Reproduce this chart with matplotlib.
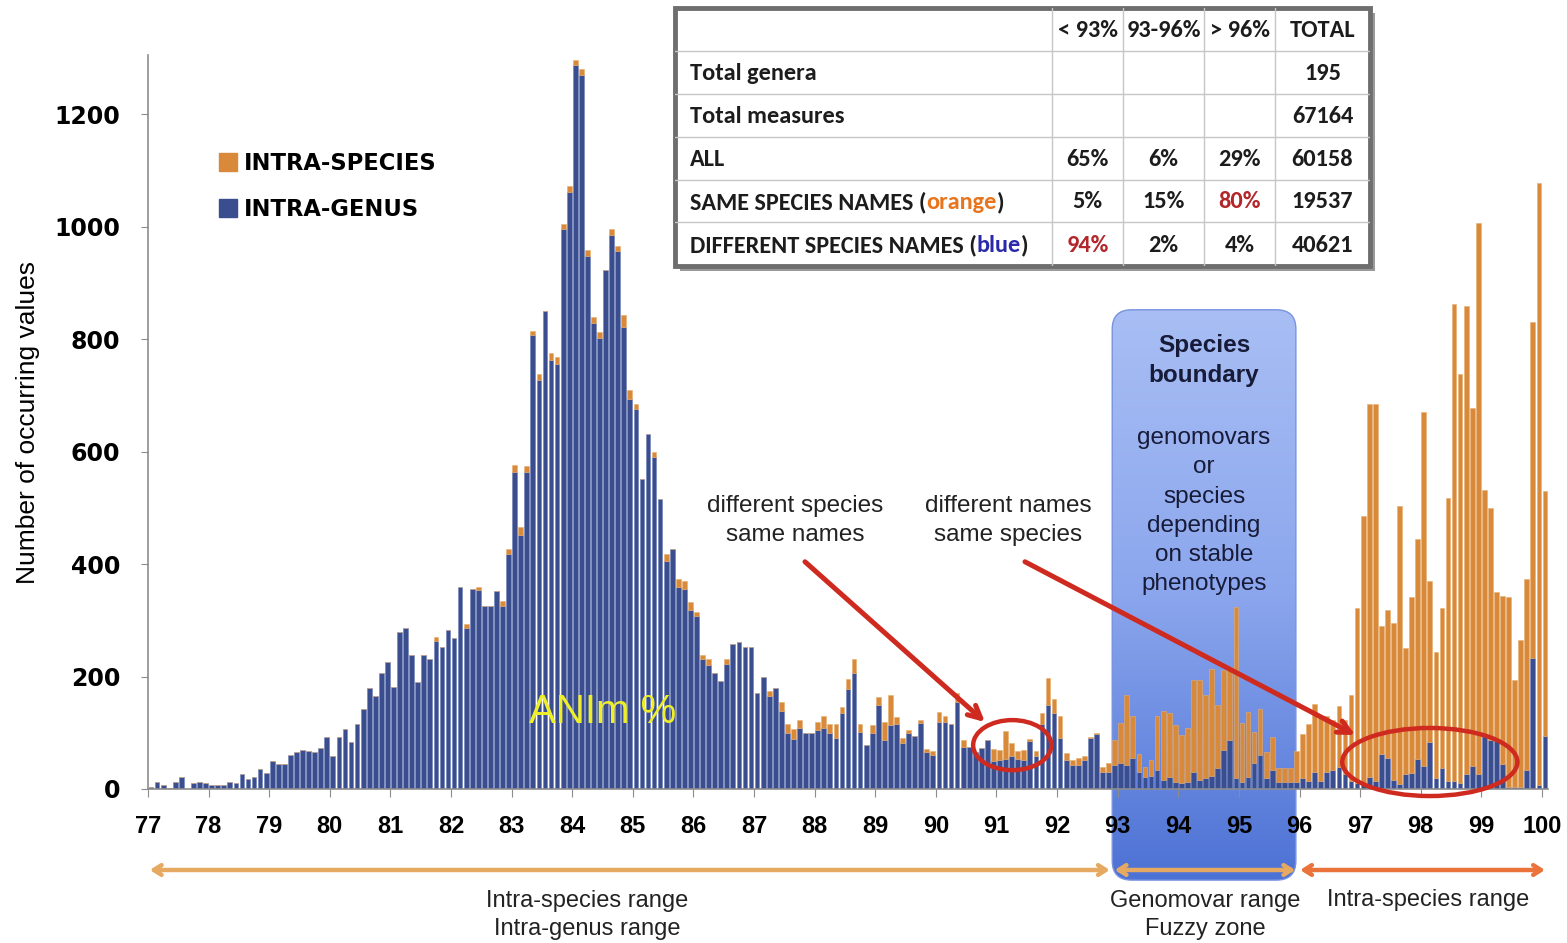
import numpy as np
import matplotlib
matplotlib.use('Agg')
from matplotlib import pyplot as plt
from matplotlib import font_manager as fm
import matplotlib.colors as mcolors
from matplotlib.patches import FancyBboxPatch, Ellipse, Rectangle, Patch
from matplotlib.offsetbox import TextArea, HPacker, AnnotationBbox


def pick_font(*names):
    for name in names:
        try:
            fm.findfont(fm.FontProperties(family=name), fallback_to_default=False)
            return name
        except ValueError:
            pass
    return 'DejaVu Sans'


NARROW = pick_font('Liberation Sans Narrow', 'Liberation Sans')
ARIAL = pick_font('Liberation Sans', 'Arimo')
CALIBRI = pick_font('Carlito', 'Lato', 'Open Sans')
IS_NARROW = NARROW == 'Liberation Sans Narrow'

# ANIm bins, 0.1 % wide, labelled by their lower edge (77.0 ... 100.0)
ani_bins = np.round(np.arange(770, 1001) / 10, 1)

# counts of pairs with different species names (blue), one line per unit of ANIm
genus = [
    3, 13, 8, 1, 13, 22, 0, 10, 12, 10,            # 77
    7, 7, 7, 13, 10, 27, 17, 22, 35, 28,           # 78
    49, 44, 44, 61, 66, 70, 68, 66, 73, 93,        # 79
    58, 92, 106, 84, 115, 143, 179, 165, 206, 225,  # 80
    182, 279, 286, 239, 191, 238, 231, 264, 252, 282,  # 81
    269, 359, 286, 356, 354, 326, 326, 352, 325, 417,  # 82
    564, 451, 563, 807, 727, 850, 763, 756, 995, 1062,  # 83
    1288, 1270, 948, 829, 802, 923, 985, 956, 822, 694,  # 84
    675, 552, 631, 590, 515, 405, 427, 360, 356, 319,  # 85
    307, 231, 221, 206, 192, 223, 257, 262, 252, 253,  # 86
    170, 200, 166, 179, 139, 99, 89, 108, 99, 99,  # 87
    105, 109, 99, 91, 135, 178, 206, 102, 79, 99,  # 88
    149, 88, 114, 115, 81, 99, 94, 117, 66, 61,    # 89
    120, 120, 115, 155, 75, 75, 65, 73, 87, 50,    # 90
    52, 53, 59, 53, 52, 85, 59, 115, 150, 135,     # 91
    91, 52, 43, 43, 52, 90, 97, 31, 31, 43,        # 92
    47, 43, 55, 31, 22, 24, 34, 16, 22, 13,        # 93
    10, 13, 31, 16, 19, 24, 38, 69, 87, 20,        # 94
    13, 22, 46, 60, 19, 34, 13, 13, 13, 13,        # 95
    19, 15, 31, 15, 31, 33, 39, 26, 15, 11,        # 96
    7, 22, 15, 63, 56, 16, 9, 26, 28, 53,          # 97
    41, 83, 19, 37, 15, 15, 11, 26, 41, 26,        # 98
    95, 87, 85, 44, 3, 3, 3, 33, 233, 7,           # 99
    95,                                            # 100
]

# counts of pairs with the same species name (orange), stacked on top
species = [
    0, 0, 0, 0, 0, 0, 0, 0, 0, 0,                  # 77
    0, 0, 0, 0, 0, 0, 0, 0, 0, 0,                  # 78
    0, 0, 0, 0, 0, 0, 0, 0, 0, 0,                  # 79
    0, 0, 0, 0, 0, 0, 0, 0, 0, 0,                  # 80
    0, 0, 0, 0, 0, 0, 0, 6, 0, 0,                  # 81
    0, 0, 8, 0, 6, 0, 0, 0, 10, 10,                # 82
    12, 14, 12, 8, 10, 0, 12, 12, 10, 10,          # 83
    8, 10, 10, 10, 10, 0, 10, 10, 20, 15,          # 84
    10, 0, 0, 10, 0, 12, 0, 14, 14, 14,            # 85
    8, 8, 10, 0, 0, 8, 0, 0, 0, 0,                 # 86
    0, 0, 8, 0, 16, 16, 18, 15, 0, 0,              # 87
    14, 20, 16, 24, 10, 17, 25, 13, 0, 14,         # 88
    15, 31, 53, 13, 10, 6, 0, 6, 5, 6,             # 89
    17, 10, 0, 15, 12, 0, 0, 0, 0, 21,             # 90
    17, 50, 22, 15, 17, 4, 9, 20, 48, 25,          # 91
    39, 12, 9, 12, 7, 3, 2, 9, 16, 44,             # 92
    70, 124, 74, 32, 18, 28, 95, 123, 114, 101,    # 93
    86, 95, 163, 178, 148, 189, 111, 143, 130, 304,  # 94
    104, 115, 56, 83, 47, 59, 24, 24, 24, 55,      # 95
    78, 100, 121, 111, 99, 89, 109, 96, 152, 311,  # 96
    478, 663, 670, 226, 263, 279, 495, 224, 313, 391,  # 97
    629, 286, 225, 285, 502, 848, 726, 832, 637, 980,  # 98
    437, 413, 265, 300, 338, 191, 262, 341, 598, 1071,  # 99
    435,                                           # 100
]

x_ticks = list(range(77, 101))
y_ticks = [0, 200, 400, 600, 800, 1000, 1200]

table_header = ['< 93%', '93-96%', '> 96%', 'TOTAL']
table_rows = ['Total genera', 'Total measures', 'ALL',
              'SAME SPECIES NAMES (', 'DIFFERENT SPECIES NAMES (']
table_row_word = [None, None, None, 'orange', 'blue']
table_values = [
    ['', '', '', '195'],
    ['', '', '', '67164'],
    ['65%', '6%', '29%', '60158'],
    ['5%', '15%', '80%', '19537'],
    ['94%', '2%', '4%', '40621'],
]
table_red = {(3, 2), (4, 0)}

BLUE = '#3a4e8f'
ORANGE = '#d8893a'
RED = '#cf2a1f'
GREY = '#8c8c8c'
INK = '#1c1c1c'

W, H = 1567, 943
fig = plt.figure(figsize=(W / 100, H / 100), dpi=100)
ax = fig.add_axes([148 / W, 1 - 789 / H, (1548 - 148) / W, (789 - 55) / H])

# species boundary box (drawn behind the bars, runs below the axis)
bx0, bx1, by0, by1 = 92.91, 95.94, -162, 852
grad = np.linspace(0, 1, 256).reshape(-1, 1)
box_cmap = mcolors.LinearSegmentedColormap.from_list(
    'box', ['#a8bef4', '#8ba6ed', '#4d72d5'])
im = ax.imshow(grad, extent=(bx0, bx1, by0, by1), origin='upper', cmap=box_cmap,
               aspect='auto', interpolation='bicubic', zorder=0.5)
box = FancyBboxPatch((bx0, by0), bx1 - bx0, by1 - by0,
                     boxstyle='round,pad=0,rounding_size=0.32', mutation_aspect=107,
                     fc='none', ec='#7893df', lw=1, zorder=0.6, clip_on=False)
ax.add_patch(box)
im.set_clip_path(box)
im.set_clip_box(fig.bbox)

pos = ani_bins + 0.05
ax.bar(pos, genus, width=0.078, color=BLUE, edgecolor='#6f82b6', linewidth=0.4, zorder=2)
ax.bar(pos, species, bottom=genus, width=0.078, color=ORANGE, edgecolor='#e8ae6e',
       linewidth=0.4, zorder=2)

ax.set_xlim(77, 100.1)
ax.set_ylim(0, 1305)
for side in ('top', 'right'):
    ax.spines[side].set_visible(False)
for side in ('left', 'bottom'):
    ax.spines[side].set_color(GREY)
    ax.spines[side].set_linewidth(1.2)

ax.set_xticks(x_ticks)
ax.set_xticklabels([str(t) for t in x_ticks], fontweight='bold', family=NARROW,
                   fontsize=19 if IS_NARROW else 17)
ax.set_yticks(y_ticks)
ax.set_yticklabels([str(t) for t in y_ticks], fontweight='bold', family='DejaVu Sans',
                   fontsize=17)
ax.tick_params(axis='x', length=6, color=GREY, pad=13)
ax.tick_params(axis='y', length=5, color=GREY, pad=15)
ax.set_ylabel('Number of occurring values', family=NARROW,
              fontsize=22 if IS_NARROW else 19)
ax.yaxis.set_label_coords(-0.077, 0.5)

# legend
handles = [Patch(color=ORANGE, label='INTRA-SPECIES'), Patch(color=BLUE, label='INTRA-GENUS')]
fig.legend(handles=handles, loc='upper left', bbox_to_anchor=(219 / W, 1 - 152 / H),
           frameon=False, prop=dict(family='DejaVu Sans', weight='bold', size=16.3),
           handlelength=0.8, handleheight=0.85, handletextpad=0.3, labelspacing=1.0,
           borderaxespad=0, borderpad=0)

# text inside the box
ax.text((bx0 + bx1) / 2, 762, 'Species\nboundary', ha='center', va='center',
        fontsize=17.5, fontweight='bold', family=ARIAL, color='#171b38', linespacing=1.38)
ax.text((bx0 + bx1) / 2, 494, 'genomovars\nor\nspecies\ndepending\non stable\nphenotypes',
        ha='center', va='center', fontsize=17.5, family=ARIAL, color='#171b38',
        linespacing=1.42)

ax.text(84.5, 137, 'ANIm %', ha='center', va='center', fontsize=29, family=ARIAL,
        color='#eeee2a', zorder=5)

ax.text(87.68, 478, 'different species\nsame names', ha='center', va='center',
        fontsize=17.5, family=ARIAL, color='#222222', linespacing=1.4)
ax.text(91.19, 478, 'different names\nsame species', ha='center', va='center',
        fontsize=17.5, family=ARIAL, color='#222222', linespacing=1.4)

red_arrow = dict(arrowstyle='->,head_length=0.9,head_width=0.45', color=RED, lw=3.6,
                 shrinkA=0, shrinkB=0)
ax.annotate('', xy=(90.81, 119), xytext=(87.84, 404), arrowprops=red_arrow, zorder=6)
ax.annotate('', xy=(96.92, 96), xytext=(91.47, 404), arrowprops=red_arrow, zorder=6)
ax.add_patch(Ellipse((91.26, 78), 1.29, 89, fill=False, ec=RED, lw=3.2, zorder=6,
                     clip_on=False))
ax.add_patch(Ellipse((98.15, 48), 2.89, 121, fill=False, ec=RED, lw=3.2, zorder=6,
                     clip_on=False))


# range arrows below the axis
def range_arrow(xa, xb, color):
    ax.annotate('', xy=(xb, -144), xytext=(xa, -144), annotation_clip=False,
                arrowprops=dict(arrowstyle='<->,head_length=0.55,head_width=0.35',
                                color=color, lw=3.2, shrinkA=0, shrinkB=0))


range_arrow(77.03, 92.87, '#e6a961')
range_arrow(92.95, 95.93, '#e6a961')
range_arrow(96.01, 100.05, '#e9733a')

lab_size = 20 if IS_NARROW else 17
ax.text(84.24, -224, 'Intra-species range\nIntra-genus range', ha='center', va='center',
        fontsize=lab_size, family=NARROW, color='#222222', linespacing=1.4, clip_on=False)
ax.text(94.44, -224, 'Genomovar range\nFuzzy zone', ha='center', va='center',
        fontsize=lab_size, family=NARROW, color='#222222', linespacing=1.4, clip_on=False)
ax.text(98.12, -197, 'Intra-species range', ha='center', va='center',
        fontsize=lab_size, family=NARROW, color='#222222', clip_on=False)

# summary table
tax = fig.add_axes([675 / W, 1 - 266 / H, 695 / W, 258 / H])
tax.set_xlim(0, 695)
tax.set_ylim(258, 0)
tax.axis('off')
col_x = [0, 377, 448, 529, 600, 695]
row_y = [0, 43, 86, 129, 172, 214, 258]
tax.add_patch(Rectangle((5, 5), 695, 258, fc='#9a9a9a', ec='none', zorder=0, clip_on=False))
tax.add_patch(Rectangle((0, 0), 695, 258, fc='white', ec='#6e6e6e', lw=3.5, zorder=1,
                        clip_on=False))
for x in col_x[1:-1]:
    tax.plot([x, x], [row_y[0], row_y[-1]], color='#c6c6c6', lw=1, zorder=2)
for y in row_y[1:-1]:
    tax.plot([col_x[0], col_x[-1]], [y, y], color='#c6c6c6', lw=1, zorder=2)

TSIZE = 17.5
bold = dict(family=CALIBRI, fontsize=TSIZE, fontweight='bold', color=INK)
for j, head in enumerate(table_header):
    tax.text((col_x[j + 1] + col_x[j + 2]) / 2, (row_y[0] + row_y[1]) / 2 + 1, head,
             ha='center', va='center', zorder=3, **bold)

word_color = {'orange': '#e8741c', 'blue': '#2a2aa8'}
for i, label in enumerate(table_rows):
    yc = (row_y[i + 1] + row_y[i + 2]) / 2 + 1
    word = table_row_word[i]
    if word is None:
        tax.text(15, yc, label, ha='left', va='center', zorder=3, **bold)
    else:
        parts = [TextArea(label, textprops=bold),
                 TextArea(word, textprops=dict(bold, color=word_color[word])),
                 TextArea(')', textprops=bold)]
        pack = HPacker(children=parts, align='baseline', pad=0, sep=0)
        tax.add_artist(AnnotationBbox(pack, (15, yc), xycoords='data', box_alignment=(0, 0.5),
                                      frameon=False, pad=0, zorder=3))
    for j, val in enumerate(table_values[i]):
        color = '#b3262a' if (i, j) in table_red else INK
        tax.text((col_x[j + 1] + col_x[j + 2]) / 2, yc, val, ha='center', va='center',
                 zorder=3, **dict(bold, color=color))

fig.savefig('out.png', dpi=100)
